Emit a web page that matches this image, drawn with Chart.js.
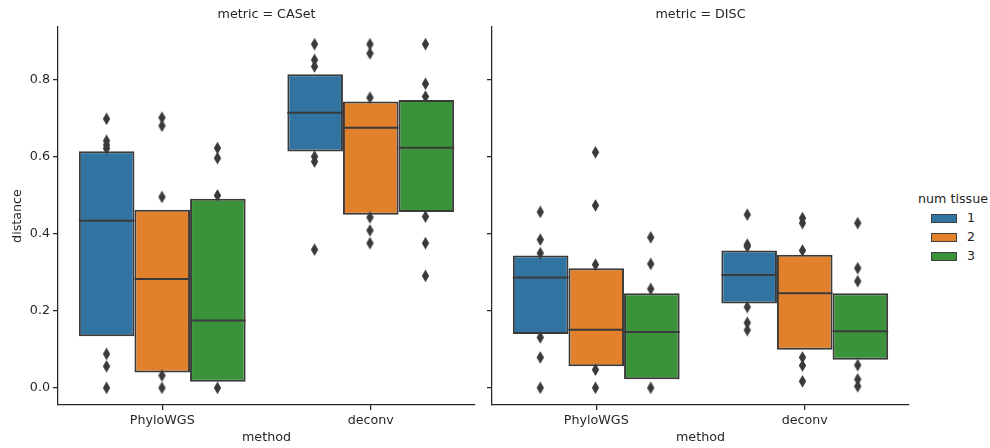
<!DOCTYPE html>
<html>
<head>
<meta charset="utf-8">
<script src="https://cdn.jsdelivr.net/npm/chart.js@4/dist/chart.umd.min.js"></script>
<style>
  html, body { margin: 0; padding: 0; background: #fff; }
  body { width: 990px; height: 448px; position: relative; overflow: hidden; font-family: 'DejaVu Sans', sans-serif; color: #262626; }
  canvas { position: absolute; top: 0; }
  #c1, #o1 { left: 0; }
  #c2, #o2 { left: 480px; }
  .lg { position: absolute; font-size: 12.7px; line-height: 15px; white-space: nowrap; }
  .sw { position: absolute; width: 24px; height: 7px; border: 1px solid #3f3f3f; }
</style>
</head>
<body>
<canvas id="c1" width="480" height="448"></canvas>
<canvas id="o1" width="480" height="448"></canvas>
<canvas id="c2" width="432" height="448"></canvas>
<canvas id="o2" width="432" height="448"></canvas>
<div class="lg" style="left:918px; top:191px;">num tissue</div>
<div class="sw" style="left:931px; top:214px; background:#3274a1;"></div>
<div class="lg" style="left:967px; top:210px;">1</div>
<div class="sw" style="left:931px; top:233px; background:#e1812c;"></div>
<div class="lg" style="left:967px; top:229px;">2</div>
<div class="sw" style="left:931px; top:252px; background:#3a923a;"></div>
<div class="lg" style="left:967px; top:248px;">3</div>
<script>
// ---------------- data ----------------
const methods = ['PhyloWGS', 'deconv'];
const tissues = ['1', '2', '3'];
const yTicks = [0.0, 0.2, 0.4, 0.6, 0.8];

// metric = CASet : box [lower, upper] per method, medians, outliers
const casetBox1 = [[0.134, 0.615], [0.614, 0.815]];
const casetBox2 = [[0.040, 0.463], [0.450, 0.744]];
const casetBox3 = [[0.016, 0.491], [0.457, 0.748]];
const casetMed1 = [0.434, 0.715];
const casetMed2 = [0.283, 0.676];
const casetMed3 = [0.175, 0.624];
const casetOut1 = [[0.699, 0.642, 0.631, 0.622, 0.088, 0.056, 0.0], [0.893, 0.852, 0.835, 0.601, 0.588, 0.359]];
const casetOut2 = [[0.702, 0.681, 0.496, 0.032, 0.0], [0.893, 0.869, 0.754, 0.443, 0.409, 0.376]];
const casetOut3 = [[0.623, 0.597, 0.500, 0.0], [0.893, 0.790, 0.757, 0.445, 0.376, 0.291]];

// metric = DISC
const discBox1 = [[0.140, 0.344], [0.219, 0.357]];
const discBox2 = [[0.056, 0.311], [0.099, 0.346]];
const discBox3 = [[0.022, 0.246], [0.073, 0.246]];
const discMed1 = [0.287, 0.293];
const discMed2 = [0.151, 0.246];
const discMed3 = [0.145, 0.147];
const discOut1 = [[0.457, 0.385, 0.350, 0.131, 0.079, 0.0], [0.450, 0.372, 0.367, 0.210, 0.169, 0.150]];
const discOut2 = [[0.612, 0.474, 0.320, 0.047, 0.0], [0.441, 0.428, 0.357, 0.079, 0.058, 0.017]];
const discOut3 = [[0.391, 0.322, 0.257, 0.0], [0.428, 0.311, 0.277, 0.059, 0.022, 0.004]];

// ---------------- style ----------------
const FONT = "'DejaVu Sans', sans-serif";
const FS = 12.7;
const TXT = '#262626';
const EDGE = '#3a3a3a';
const colors = ['#3274a1', '#e1812c', '#3a923a'];
const Y_MIN = -0.0446, Y_MAX = 0.9376;

function makeDiamond() {
  const c = document.createElement('canvas');
  c.width = 9; c.height = 13;
  const g = c.getContext('2d');
  g.fillStyle = EDGE;
  g.beginPath();
  g.moveTo(4.5, 0.3); g.lineTo(8.2, 6.5); g.lineTo(4.5, 12.7); g.lineTo(0.8, 6.5);
  g.closePath(); g.fill();
  return c;
}
const diamond = makeDiamond();

function build(id, oid, title, boxes, meds, outs, first) {
  const padRight = first ? 5 : 3;
  const yWidth = first ? 58 : 12;
  const datasets = boxes.map((b, t) => ({
    label: tissues[t], data: b,
    backgroundColor: colors[t], borderColor: EDGE, borderWidth: 2, borderSkipped: false,
    categoryPercentage: 0.8, barPercentage: 1.0
  }));

  const medianPlugin = {
    id: 'medians',
    afterDatasetDraw(chart, args) {
      const t = args.index;
      const ctx = chart.ctx, ys = chart.scales.y;
      ctx.save();
      ctx.strokeStyle = EDGE; ctx.lineWidth = 2;
      args.meta.data.forEach((el, m) => {
        const y = ys.getPixelForValue(meds[t][m]);
        ctx.beginPath();
        ctx.moveTo(el.x - el.width / 2, y);
        ctx.lineTo(el.x + el.width / 2, y);
        ctx.stroke();
      });
      ctx.restore();
    }
  };
  const titlePlugin = {
    id: 'facetTitle',
    afterDraw(chart) {
      const ctx = chart.ctx, a = chart.chartArea;
      ctx.save();
      ctx.font = FS + 'px ' + FONT;
      ctx.fillStyle = TXT;
      ctx.textAlign = 'center'; ctx.textBaseline = 'middle';
      ctx.fillText(title, (a.left + a.right) / 2, 15);
      ctx.restore();
    }
  };

  new Chart(document.getElementById(id), {
    type: 'bar',
    data: { labels: methods, datasets },
    plugins: [medianPlugin, titlePlugin],
    options: {
      responsive: false, animation: false, devicePixelRatio: 1,
      layout: { padding: { top: 27, right: padRight, left: 0, bottom: 0 } },
      plugins: { legend: { display: false }, tooltip: { enabled: false } },
      scales: {
        x: {
          type: 'category', position: 'bottom', offset: true,
          grid: { display: true, drawOnChartArea: false, drawTicks: true, tickLength: 5, offset: false, color: TXT, lineWidth: 1.25 },
          border: { display: true, color: TXT, width: 1.25 },
          ticks: { color: TXT, font: { family: FONT, size: FS }, padding: 3, maxRotation: 0 },
          title: { display: true, text: 'method', color: TXT, font: { family: FONT, size: FS }, padding: { top: 0, bottom: 3 } },
          afterFit(s) { s.height = 43; }
        },
        y: {
          type: 'linear', position: 'left', min: Y_MIN, max: Y_MAX,
          grid: { display: true, drawOnChartArea: false, drawTicks: true, tickLength: 5, color: TXT, lineWidth: 1.25 },
          border: { display: true, color: TXT, width: 1.25 },
          ticks: { display: first, color: TXT, font: { family: FONT, size: FS }, padding: 3, includeBounds: false,
                   callback: v => Number(v).toFixed(1) },
          afterBuildTicks(s) { s.ticks = yTicks.map(v => ({ value: v })); },
          title: { display: first, text: 'distance', color: TXT, font: { family: FONT, size: FS }, padding: { top: 10, bottom: 0 } },
          afterFit(s) { s.width = yWidth; }
        }
      }
    }
  });

  // outlier overlay: same plot area, x in category-index units
  const sets = outs.map((o, t) => {
    const off = (t - 1) * 0.8 / 3;
    const pts = [];
    o.forEach((vals, m) => vals.forEach(v => pts.push({ x: m + off, y: v })));
    return { data: pts, pointStyle: diamond, pointRadius: 5 };
  });
  new Chart(document.getElementById(oid), {
    type: 'scatter',
    data: { datasets: sets },
    options: {
      responsive: false, animation: false, devicePixelRatio: 1,
      layout: { padding: { top: 27, right: padRight, left: yWidth, bottom: 43 } },
      plugins: { legend: { display: false }, tooltip: { enabled: false } },
      scales: {
        x: { type: 'linear', display: false, offset: false, min: -0.5, max: 1.5 },
        y: { type: 'linear', display: false, min: Y_MIN, max: Y_MAX }
      }
    }
  });
}

build('c1', 'o1', 'metric = CASet', [casetBox1, casetBox2, casetBox3], [casetMed1, casetMed2, casetMed3], [casetOut1, casetOut2, casetOut3], true);
build('c2', 'o2', 'metric = DISC', [discBox1, discBox2, discBox3], [discMed1, discMed2, discMed3], [discOut1, discOut2, discOut3], false);
</script>
</body>
</html>
